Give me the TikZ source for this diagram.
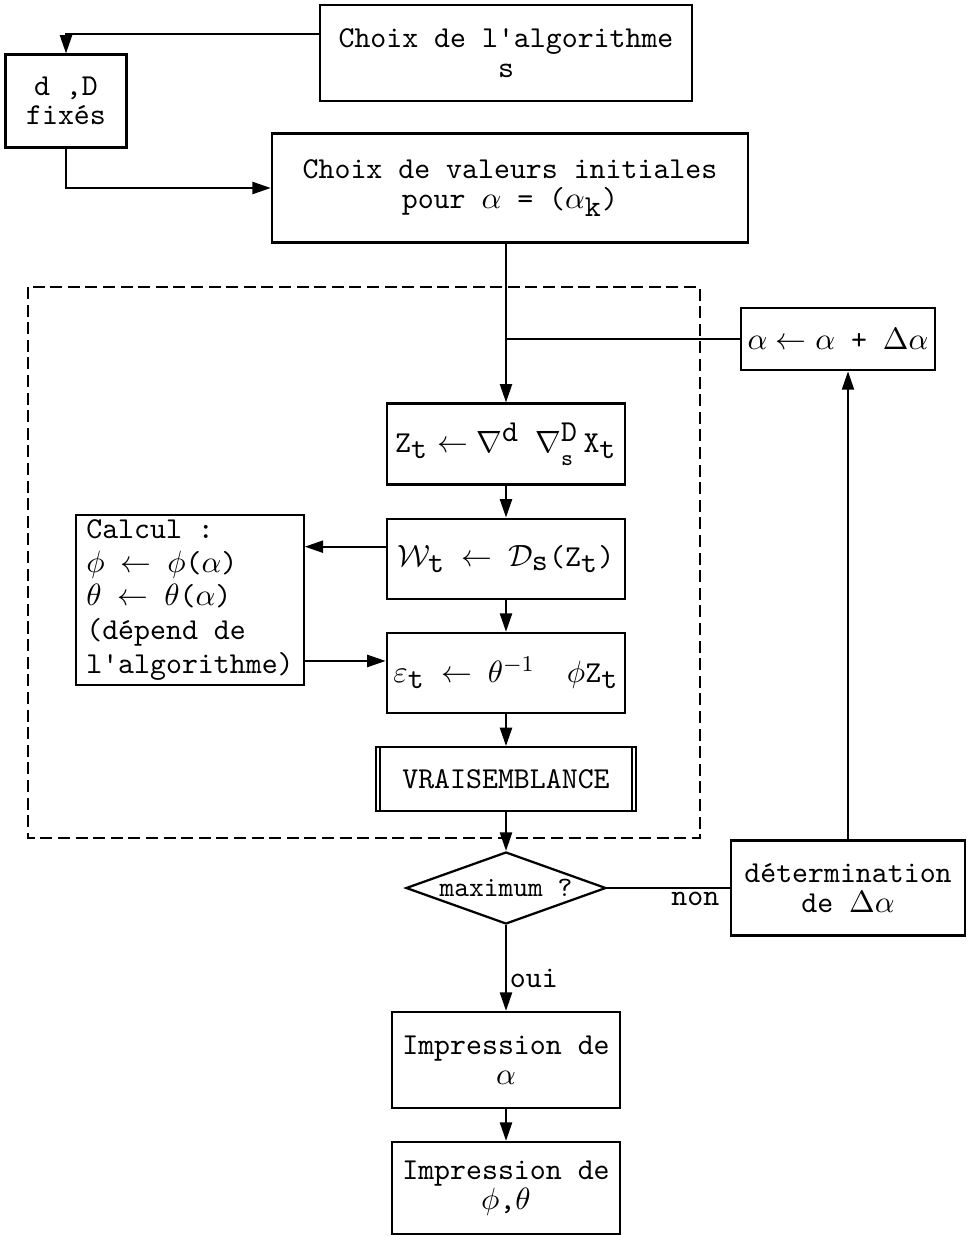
\documentclass[tikz,border=0pt]{standalone}
\usepackage{tikz}
\usetikzlibrary{arrows.meta, positioning, shapes.geometric}

\begin{document}
\begin{tikzpicture}[
    x=0.0125cm, y=-0.0125cm,
    every node/.style={
    align=center,
    font=\ttfamily\fontsize{10.8}{10.5}\selectfont,
    inner sep=1pt},
    box/.style={draw, line width=0.8pt},
    >={Triangle[length=2.3mm, width=1.5mm]},
    line width=0.8pt]
    \useasboundingbox (0,0) rectangle (975,1236);
    % top part
    \node[box, minimum width=4.64cm, minimum height=1.2cm] (algo) at (506,53) {Choix de l'algorithme\\s};
    \node[box, minimum width=1.51cm, minimum height=1.16cm] (fix) at (66,101) {d ,D\\fixés};
    \node[box, minimum width=5.95cm, minimum height=1.36cm] (init) at (510,188) {Choix de valeurs initiales\\pour $\alpha$ = ($\alpha_{\texttt{k}}$)};
    \draw[->] ([yshift=0.24cm]algo.west) -| (fix.north);
    \draw[->] (fix.south) |- (init.west);
    % loop
    \node[box, minimum width=2.98cm, minimum height=1.01cm] (diff) at (506,444) {Z$_{\texttt{t}}\leftarrow\nabla^{\texttt{d}}$ $\nabla^{\texttt{D}}_{\lower2pt\hbox{\fontsize{8}{8}\selectfont s}}\,$X$_{\texttt{t}}$};
    \node[box, minimum width=2.98cm, minimum height=1cm, below=0.4cm of diff] (filt) {$\mathcal{W}_{\texttt{t}}$ $\leftarrow$ $\mathcal{D}_{\texttt{s}}$(Z$_{\texttt{t}}$)};
    \node[box, minimum width=2.98cm, minimum height=1cm, below=0.4cm of filt] (resid) {$\varepsilon_{\texttt{t}}$ $\leftarrow$ $\theta^{-1}$ \ $\phi$Z$_{\texttt{t}}$};
    \node[box, minimum width=3.24cm, minimum height=0.8cm, below=0.4cm of resid] (vrai) {VRAISEMBLANCE};
    \draw ([xshift=0.6mm]vrai.north west) -- ([xshift=0.6mm]vrai.south west);
    \draw ([xshift=-0.6mm]vrai.north east) -- ([xshift=-0.6mm]vrai.south east);
    \node[box, minimum width=2.84cm, minimum height=2.13cm, align=left, font=\ttfamily\fontsize{10.8}{12}\selectfont] (calc) at (190,600) {Calcul :\\$\phi$ $\leftarrow$ $\phi$($\alpha$)\\$\theta$ $\leftarrow$ $\theta$($\alpha$)\\(dépend de\\l'algorithme)};
    \node[box, minimum width=2.43cm, minimum height=0.78cm] (incr) at (838,339) {$\alpha \leftarrow \alpha$ + $\Delta\alpha$};
    \coordinate (join) at (diff.north |- incr.west);
    \draw[dash pattern=on 1.5mm off 0.7mm] (28,287) rectangle (700,838);
    \draw[->] (init.south -| diff.north) -- (diff.north);
    \draw (incr.west) -- (join);
    \draw[->] (diff) -- (filt);
    \draw[->] ([yshift=0.15cm]filt.west) -- ([yshift=0.15cm]filt.west -| calc.east);
    \draw[->] ([yshift=0.15cm]resid.west -| calc.east) -- ([yshift=0.15cm]resid.west);
    \draw[->] (filt) -- (resid);
    \draw[->] (resid) -- (vrai);
    % test
    \node[draw, diamond, aspect=2.78, inner sep=0pt, minimum width=2.5cm, minimum height=0.9cm, font=\ttfamily\fontsize{10}{10}\selectfont] (maxi) at (506,888) {maximum ?};
    \node[box, minimum width=2.93cm, minimum height=1.19cm] (det) at (848,888) {détermination\\de $\Delta\alpha$};
    \draw[->] (vrai) -- (maxi);
    \draw (maxi.east) -- node[pos=0.72, below] {non} (det.west);
    \draw[->] (det.north) -- (det.north |- incr.south);
    % output
    \node[box, minimum width=2.85cm, minimum height=1.2cm] (imp1) at (506,1060) {Impression de\\$\alpha$};
    \node[box, minimum width=2.85cm, minimum height=1.15cm] (imp2) at (506,1188) {Impression de\\$\phi$,$\theta$};
    \draw[->] (maxi) -- node[pos=0.62, right] {oui} (imp1);
    \draw[->] (imp1) -- (imp2);
\end{tikzpicture}
\end{document}
